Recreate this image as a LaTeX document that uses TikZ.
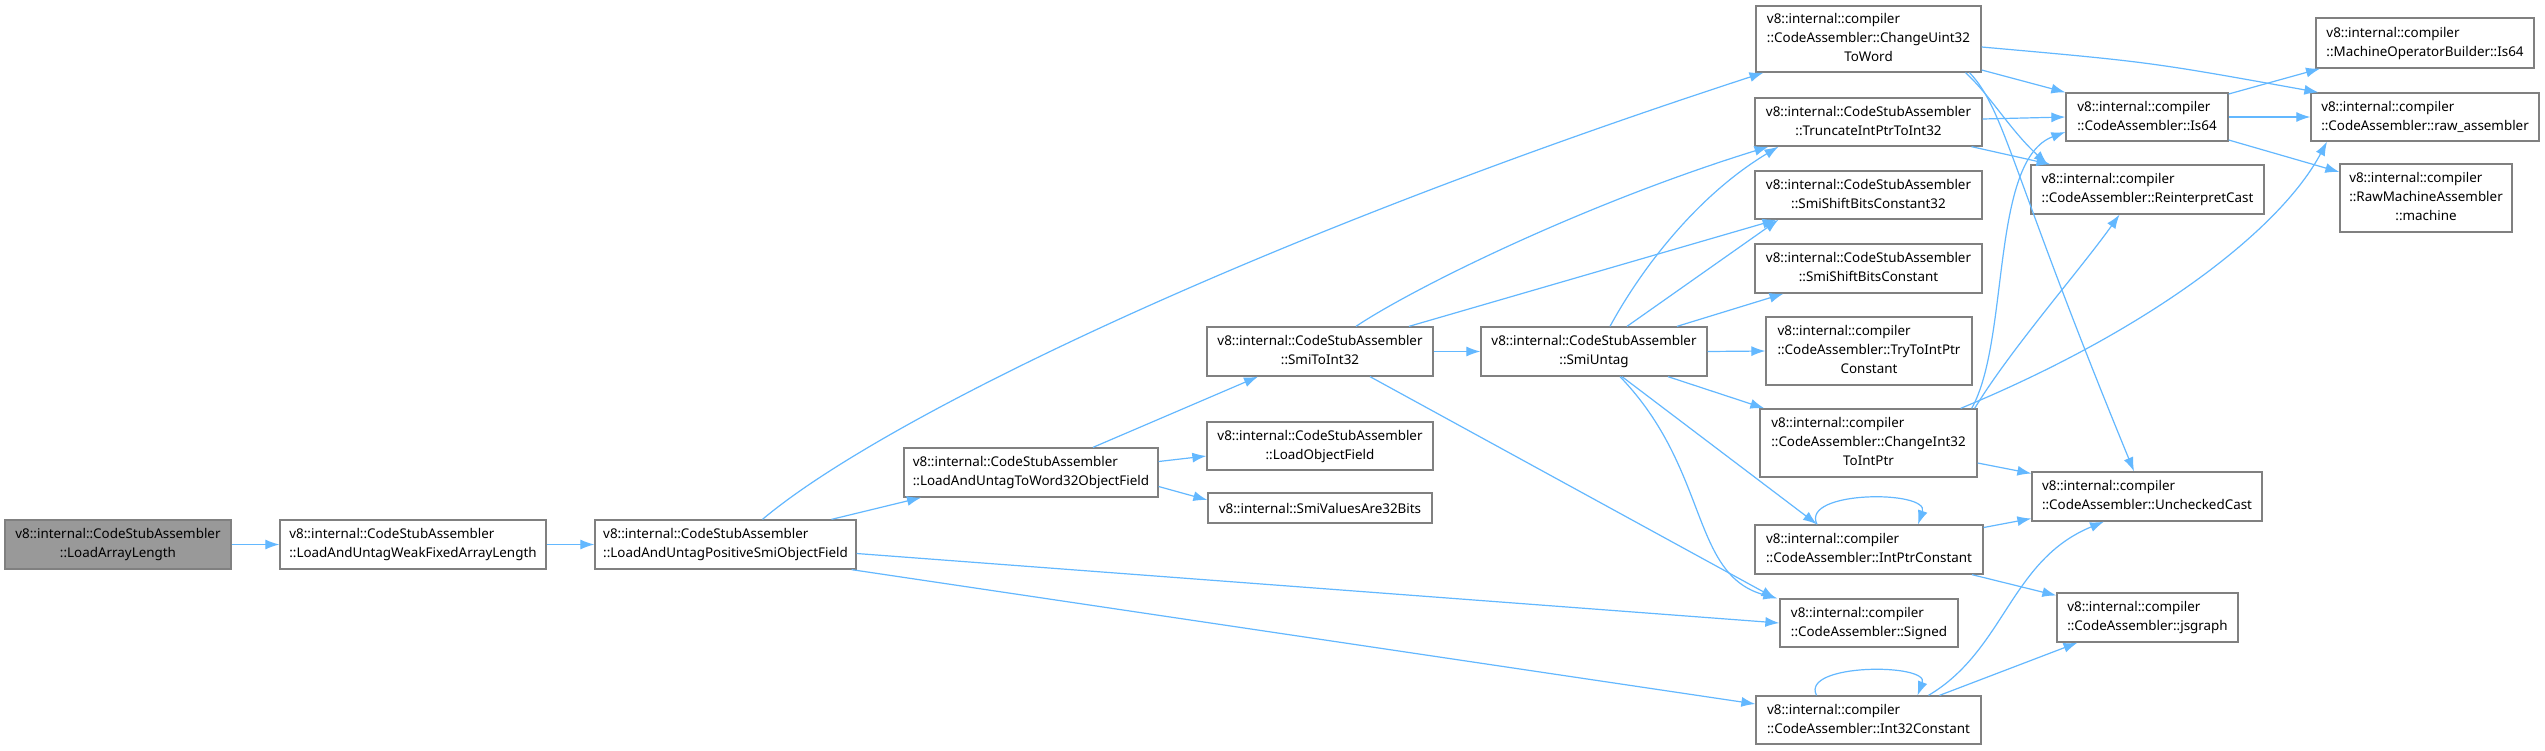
\documentclass[tikz,border=0pt]{standalone}
\usepackage{fontspec}
\setmainfont{Noto Sans}
\usetikzlibrary{arrows.meta,calc}
\definecolor{edgec}{HTML}{63B8FF}
\definecolor{boxc}{HTML}{808080}
\definecolor{grayfill}{HTML}{999999}
\newcommand{\tl}[2]{\begin{tabular}{@{}l@{}}#1\\\multicolumn{1}{@{}c@{}}{#2}\end{tabular}}
\tikzset{
  box/.style={draw=boxc, line width=1.3pt, fill=white, inner sep=0pt, text=black,
    font=\fontsize{13.4}{19}\selectfont},
  nb/.style 2 args={box, minimum width=#1pt, minimum height=#2pt},
  e/.style={draw=edgec, line width=1.2pt, -{Latex[length=14pt,width=10pt]}}
}
\begin{document}
\begin{tikzpicture}[x=1pt,y=-1pt]
\fill[white] (0,0) rectangle (2545,750);
\useasboundingbox (0,0) rectangle (2545,750);
% nodes
\node[nb={226}{49}, fill=grayfill] (A) at (118,544.5) {\tl{v8::internal::CodeStubAssembler}{::LoadArrayLength}};
\node[nb={266}{49}] (B) at (413,544.5) {\tl{v8::internal::CodeStubAssembler}{::LoadAndUntagWeakFixedArrayLength}};
\node[nb={261}{49}] (C) at (725.5,544.5) {\tl{v8::internal::CodeStubAssembler}{::LoadAndUntagPositiveSmiObjectField}};
\node[nb={254}{49}] (D) at (1031,472.5) {\tl{v8::internal::CodeStubAssembler}{::LoadAndUntagToWord32ObjectField}};
\node[nb={226}{48}] (E) at (1320,446) {\tl{v8::internal::CodeStubAssembler}{::LoadObjectField}};
\node[nb={224}{30}] (F) at (1320,508) {v8::internal::SmiValuesAre32Bits};
\node[nb={226}{49}] (G) at (1320,351.5) {\tl{v8::internal::CodeStubAssembler}{::SmiToInt32}};
\node[nb={226}{49}] (H) at (1594,351.5) {\tl{v8::internal::CodeStubAssembler}{::SmiUntag}};
\node[nb={225}{66}] (I) at (1868.5,39) {\tl{v8::internal::compiler\\::CodeAssembler::ChangeUint32}{ToWord}};
\node[nb={227}{48}] (J) at (1868.5,122) {\tl{v8::internal::CodeStubAssembler}{::TruncateIntPtrToInt32}};
\node[nb={227}{48}] (K) at (1868.5,195) {\tl{v8::internal::CodeStubAssembler}{::SmiShiftBitsConstant32}};
\node[nb={227}{49}] (L) at (1868.5,268.5) {\tl{v8::internal::CodeStubAssembler}{::SmiShiftBitsConstant}};
\node[nb={206}{68}] (M) at (1869,351) {\tl{v8::internal::compiler\\::CodeAssembler::TryToIntPtr}{Constant}};
\node[nb={217}{68}] (N) at (1868.5,443) {\tl{v8::internal::compiler\\::CodeAssembler::ChangeInt32}{ToIntPtr}};
\node[nb={228}{49}] (O) at (1869,549.5) {\tl{v8::internal::compiler}{::CodeAssembler::IntPtrConstant}};
\node[nb={178}{48}] (P) at (1869,623) {\tl{v8::internal::compiler}{::CodeAssembler::Signed}};
\node[nb={225}{48}] (Q) at (1868.5,720) {\tl{v8::internal::compiler}{::CodeAssembler::Int32Constant}};
\node[nb={162}{48}] (R) at (2147,117) {\tl{v8::internal::compiler}{::CodeAssembler::Is64}};
\node[nb={233}{49}] (S) at (2147.5,189.5) {\tl{v8::internal::compiler}{::CodeAssembler::ReinterpretCast}};
\node[nb={230}{49}] (T) at (2147,496.5) {\tl{v8::internal::compiler}{::CodeAssembler::UncheckedCast}};
\node[nb={181}{49}] (U) at (2147.5,617.5) {\tl{v8::internal::compiler}{::CodeAssembler::jsgraph}};
\node[nb={218}{50}] (V) at (2425,43) {\tl{v8::internal::compiler}{::MachineOperatorBuilder::Is64}};
\node[nb={228}{48}] (W) at (2425,117) {\tl{v8::internal::compiler}{::CodeAssembler::raw\_assembler}};
\node[nb={172}{68}] (X) at (2426,198) {\tl{v8::internal::compiler\\::RawMachineAssembler}{::machine}};
% edges
\draw[e] (A.east) -- (B.west);
\draw[e] (B.east) -- (C.west);
\draw[e] ([xshift=106pt]C.north) -- ([xshift=-110pt]D.south);
\draw[e] ([xshift=37pt]C.north) .. controls (880,420) and (1250,240) .. ([xshift=-105pt]I.south);
\draw[e] ([yshift=-9pt]C.east) -- (P.west);
\draw[e] ([xshift=-5pt]C.south east) -- ([yshift=16pt]Q.west);
\draw[e] ([xshift=62pt]D.north) -- ([xshift=-62pt]G.south);
\draw[e] ([yshift=11pt]D.east) -- ([yshift=-10pt]E.west);
\draw[e] ([yshift=-14pt]D.east) -- ([yshift=8pt]F.west);
\draw[e] (G.east) -- (H.west);
\draw[e] ([xshift=36pt]G.north) .. controls (1410,290) and (1580,205) .. ([xshift=-100pt]J.south);
\draw[e] ([xshift=89pt]G.north) -- ([xshift=-92pt]K.south);
\draw[e] ([xshift=50pt]G.south) -- ([xshift=-4pt]P.north west);
\draw[e] ([xshift=16pt]H.north) .. controls (1635,280) and (1690,200) .. ([xshift=-90pt]J.south);
\draw[e] ([xshift=33pt]H.north) -- ([xshift=-90pt]K.south);
\draw[e] ([xshift=83pt]H.north) -- ([xshift=-85pt]L.south);
\draw[e] (H.east) -- (M.west);
\draw[e] ([xshift=74pt]H.south) -- ([xshift=5pt]N.north west);
\draw[e] ([xshift=28pt]H.south) -- ([xshift=-52pt]O.north);
\draw[e] ([xshift=26pt]H.south) .. controls (1710,470) and (1690,575) .. ([xshift=-2pt]P.north west);
\draw[e] ([yshift=-31pt]I.east) -- (R.north west);
\draw[e] ([yshift=-8pt]I.east) .. controls (2150,62) .. ([xshift=8pt]W.north west);
\draw[e] ([xshift=97pt]I.south) .. controls (1990,95) and (2010,130) .. ([xshift=-100pt]S.north);
\draw[e] ([xshift=101pt]I.south) .. controls (2005,110) and (2010,170) .. ([xshift=-13pt]T.north);
\draw[e] ([yshift=3pt]J.east) -- (R.west);
\draw[e] ([xshift=103pt]J.south) -- ([xshift=-97pt]S.north);
\draw[e] ([xshift=-6pt]N.north east) .. controls (2010,340) and (1990,160) .. ([yshift=-15pt]R.west);
\draw[e] ([xshift=-3pt]N.north east) .. controls (2010,350) and (2080,270) .. ([xshift=-28pt]S.south);
\draw[e] ([xshift=-17pt]N.north east) .. controls (2150,330) and (2280,230) .. ([xshift=-98pt]W.south);
\draw[e] ([yshift=-20pt]N.east) -- ([yshift=23pt]T.west);
\draw[e] ([xshift=-52pt]O.north) .. controls (1800,490) and (1930,490) .. ([xshift=49pt]O.north);
\draw[e] ([yshift=22pt]O.east) -- ([yshift=-22pt]T.west);
\draw[e] ([xshift=103pt]O.south) -- ([yshift=22pt]U.west);
\draw[e] ([xshift=-52pt]Q.north) .. controls (1800,663) and (1930,663) .. ([xshift=49pt]Q.north);
\draw[e] ([xshift=60pt]Q.north) .. controls (2005,650) and (2010,560) .. ([xshift=-43pt]T.south);
\draw[e] ([xshift=71pt]Q.north) -- ([xshift=-70pt]U.south);
\draw[e] ([yshift=23pt]R.east) -- ([xshift=-105pt]V.south);
\draw[e] (R.east) -- (W.west);
\draw[e] ([yshift=-23pt]R.east) -- ([yshift=26pt]X.west);
\end{tikzpicture}
\end{document}
